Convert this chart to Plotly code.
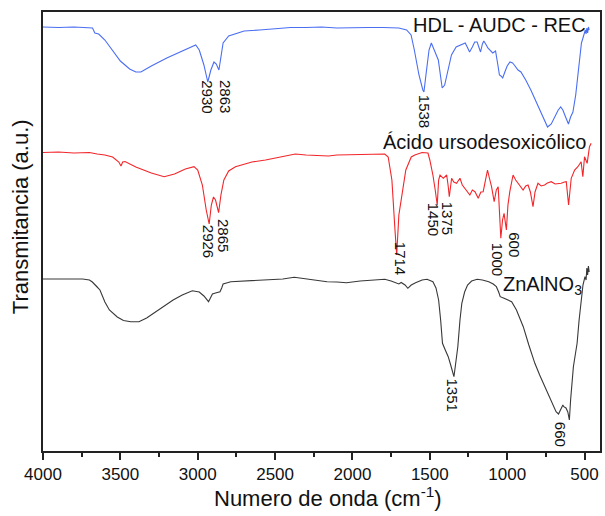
import plotly.graph_objects as go

# ---------------- data (wavenumber cm^-1, transmittance a.u.) ----------------
blue_wn = [4000, 3900, 3800, 3700, 3680, 3665, 3640, 3600, 3551, 3500, 3440, 3400, 3367, 3300, 3200,
           3100, 3013, 2990, 2960, 2935, 2915, 2895, 2880, 2863, 2850, 2836, 2800, 2700, 2600, 2500,
           2400, 2300, 2200, 2100, 2000, 1900, 1800, 1700, 1650, 1621, 1600, 1570, 1545, 1538, 1525,
           1505, 1490, 1470, 1458, 1445, 1420, 1404, 1385, 1360, 1330, 1300, 1271, 1255, 1243, 1225,
           1210, 1194, 1180, 1172, 1160, 1151, 1135, 1125, 1093, 1075, 1060, 1050, 1040, 1029, 1015,
           1000, 982, 965, 954, 930, 911, 880, 847, 815, 782, 760, 739, 715, 696, 670,
           654, 640, 625, 604, 590, 575, 557, 545, 535, 525, 520, 510, 503, 495, 490,
           485, 480, 475, 470]
blue_T = [424, 423.5, 424, 423.5, 423, 418, 417, 411, 401, 390, 382, 379, 379, 385, 393,
          400, 406, 401, 386, 369, 381, 389, 387, 381, 393, 408, 415, 420, 421, 422.5,
          423.5, 423.5, 424, 423, 423.5, 423.5, 423.5, 423, 421, 416, 401, 376, 361, 359, 376,
          401, 408, 401, 396, 391, 363, 366, 379, 396, 404, 406, 408, 403, 399, 404,
          409, 409, 403, 399, 407, 410, 406, 403, 398, 400, 386, 376, 375, 373, 379,
          385, 389, 388, 386, 381, 379, 371, 361, 350, 338, 330, 324, 327, 333, 341,
          344, 341, 335, 327, 334, 339, 356, 371, 388, 401, 408, 413, 418, 421, 417,
          423, 418, 424, 421]

red_wn = [4000, 3900, 3800, 3700, 3650, 3600, 3550, 3510, 3496, 3485, 3470, 3400, 3300, 3217, 3150,
          3080, 3024, 3000, 2970, 2945, 2926, 2912, 2898, 2885, 2865, 2850, 2831, 2800, 2756, 2700,
          2650, 2562, 2500, 2450, 2369, 2300, 2250, 2155, 2100, 2000, 1900, 1791, 1769, 1745, 1725,
          1714, 1700, 1680, 1655, 1620, 1597, 1550, 1512, 1500, 1480, 1465, 1452, 1443, 1434, 1413,
          1391, 1382, 1374, 1359, 1345, 1327, 1305, 1290, 1273, 1255, 1241, 1225, 1208, 1187, 1170,
          1155, 1140, 1127, 1115, 1101, 1084, 1070, 1058, 1050, 1041, 1030, 1020, 1005, 995, 983,
          962, 945, 930, 897, 880, 865, 850, 833, 820, 801, 780, 758, 740, 715, 690,
          651, 630, 618, 603, 586, 564, 543, 522, 511, 500, 483, 468, 457]
red_T = [298.5, 299, 298, 298.5, 297, 296, 294, 289, 285, 289, 289.5, 284, 278, 274.3, 277,
         282, 284.3, 281, 266, 241, 227, 246, 254, 251, 238.3, 256, 271, 280, 284.3, 287,
         289, 291, 293, 295, 297, 296, 295.5, 295, 296, 296.5, 297, 297, 294, 271, 221,
         196, 236, 256, 281, 294, 296, 298.5, 298, 291, 276, 261, 246, 271, 276, 272.7,
         276, 266, 254.3, 272.7, 269, 267.7, 272.7, 266, 262.7, 259, 256, 261, 259.3, 252.7, 259,
         259.3, 271, 281, 273, 264.3, 249.3, 261, 264.3, 241, 212.7, 231, 237.7, 221, 246, 259.3,
         276, 271, 267.7, 261, 265, 266, 259, 244.3, 259, 267.7, 265, 266, 268, 269.3, 267,
         267.7, 269, 269.3, 246, 272.7, 281, 284.3, 289.3, 274.3, 294.3, 287.7, 304.3, 307.7]

black_wn = [4000, 3900, 3800, 3744, 3700, 3681, 3650, 3632, 3600, 3571, 3520, 3480, 3433, 3380, 3330,
            3284, 3220, 3159, 3100, 3035, 2990, 2960, 2930, 2905, 2885, 2870, 2856, 2845, 2836, 2786,
            2700, 2600, 2537, 2450, 2376, 2300, 2250, 2164, 2100, 2039, 1950, 1850, 1791, 1750, 1717,
            1700, 1685, 1660, 1642, 1620, 1592, 1550, 1518, 1490, 1480, 1460, 1443, 1430, 1418, 1400,
            1381, 1365, 1344, 1330, 1319, 1305, 1293, 1275, 1256, 1230, 1194, 1160, 1119, 1090, 1070,
            1055, 1045, 1020, 990, 971, 940, 896, 860, 821, 790, 770, 746, 720, 700, 684,
            668, 655, 640, 634, 620, 608, 598, 590, 572, 560, 548, 535, 523, 510, 497,
            490, 485, 480, 475, 470]
black_T = [172, 172, 171.5, 172, 171, 169, 164, 161, 149, 141, 134, 130.5, 129.3, 129.3, 133,
           137.7, 145, 151, 156, 160.3, 159, 155, 149.3, 157, 158, 159, 159.3, 163, 167, 169.3,
           170, 170.5, 171, 172, 173.7, 172, 170.5, 169.3, 169, 168.3, 170, 171.5, 171.7, 170, 167.7,
           167, 168.5, 166, 162.7, 166, 168.3, 171, 171.7, 170.5, 169.3, 163, 151, 131, 107.7, 101,
           94.3, 86, 74.3, 91, 104.3, 131, 147.7, 159, 166, 170, 171.7, 171, 169.3, 167, 164.3,
           159, 154.3, 152.7, 151, 149.3, 141, 124.3, 106, 87.7, 76, 69, 61, 53, 46, 39.3,
           37, 41, 46, 44.3, 43, 39, 31, 51, 84.3, 96, 107.7, 131, 151, 166, 174.3,
           171, 183, 176, 185, 179]

series_names = ["HDL - AUDC - REC", "Ácido ursodesoxicólico", "ZnAlNO<sub>3</sub>"]
series_colors = ["#4a6ef2", "#f2262a", "#383838"]

# peak labels: (text, x, y)
peak_labels = [
    ("2930", 2937, 354.3), ("2863", 2819, 354.3), ("1538", 1530, 340),
    ("2926", 2926, 210), ("2865", 2830, 216), ("1714", 1685, 193),
    ("1450", 1471, 232), ("1375", 1380, 233), ("1000", 1058, 192), ("600", 951, 206),
    ("1351", 1353, 56), ("660", 651, 17),
]
# series name label positions (x, y)
name_pos = [(479, 426.5), (479, 309), (505, 166)]

x_ticks = [4000, 3500, 3000, 2500, 2000, 1500, 1000, 500]

FONT = "Liberation Sans, Arial, sans-serif"

fig = go.Figure()
for wn, T, c in zip([blue_wn, red_wn, black_wn], [blue_T, red_T, black_T], series_colors):
    fig.add_trace(go.Scatter(x=wn, y=T, mode="lines", line=dict(color=c, width=1.1),
                             showlegend=False, hoverinfo="skip"))

annotations = []
for txt, x, y in peak_labels:
    annotations.append(dict(x=x, y=y, xref="x", yref="y", text=txt, showarrow=False,
                            textangle=90, xanchor="center", yanchor="middle",
                            font=dict(family=FONT, size=15, color="#111")))
for name, (x, y) in zip(series_names, name_pos):
    annotations.append(dict(x=x, y=y, xref="x", yref="y", text=name, showarrow=False,
                            xanchor="right", yanchor="middle",
                            font=dict(family=FONT, size=20, color="#111")))
annotations.append(dict(x=0.5125, y=-0.105, xref="paper", yref="paper",
                        text="Numero de onda (cm<sup>-1</sup>)", showarrow=False,
                        xanchor="center", yanchor="middle",
                        font=dict(family=FONT, size=22, color="#111")))
annotations.append(dict(x=-0.041, y=0.533, xref="paper", yref="paper",
                        text="Transmitancia (a.u.)", showarrow=False, textangle=-90,
                        xanchor="center", yanchor="middle",
                        font=dict(family=FONT, size=22, color="#111")))

fig.update_layout(
    width=605, height=516,
    margin=dict(l=43, r=3, t=12, b=65),
    paper_bgcolor="white", plot_bgcolor="white",
    annotations=annotations,
    xaxis=dict(range=[4000, 400], tickvals=x_ticks, ticktext=[str(v) for v in x_ticks],
               ticks="outside", ticklen=7, tickwidth=1.5, tickcolor="#222",
               minor=dict(dtick=250, tick0=0, ticks="outside", ticklen=4, tickwidth=1.5, tickcolor="#222"),
               showline=True, linecolor="#222", linewidth=1.5, mirror=True,
               showgrid=False, zeroline=False,
               tickfont=dict(family=FONT, size=17, color="#111")),
    yaxis=dict(range=[0, 439], showticklabels=False, ticks="",
               showline=True, linecolor="#222", linewidth=1.5, mirror=True,
               showgrid=False, zeroline=False),
)

fig.write_html("out.html")
